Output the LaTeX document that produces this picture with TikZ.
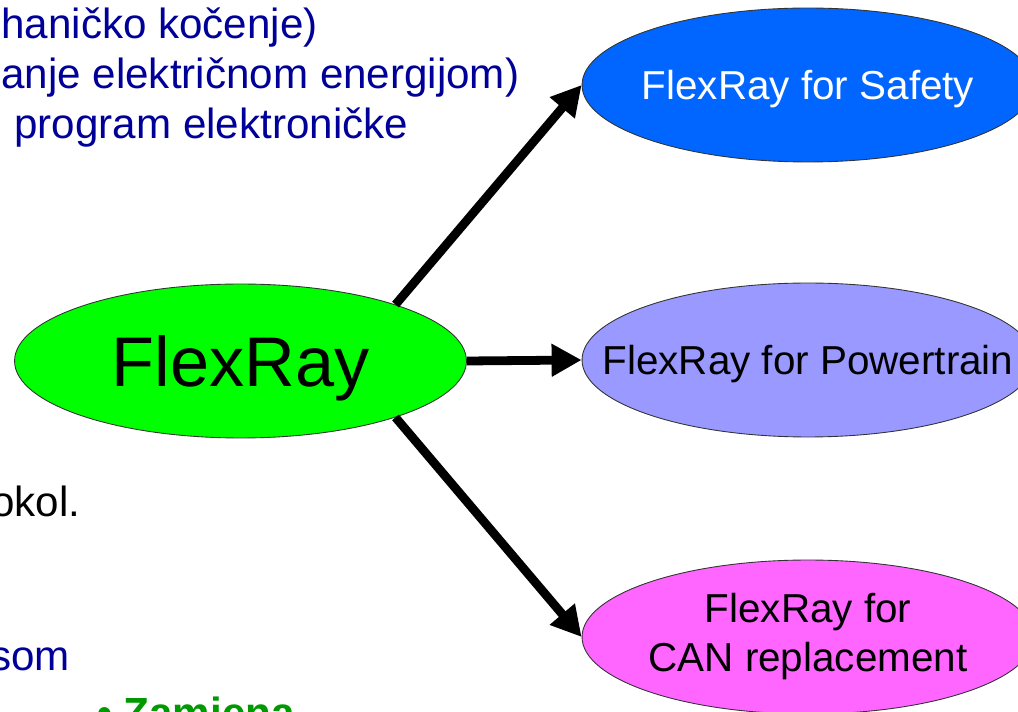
\documentclass[tikz,border=0pt]{standalone}
\usepackage{fontspec}
\setmainfont{Liberation Sans}
\usetikzlibrary{arrows.meta, shapes.geometric}
\definecolor{slideblue}{RGB}{0,0,153}
\definecolor{slidegreen}{RGB}{0,153,0}
\definecolor{safetyblue}{RGB}{0,102,255}
\definecolor{powerlilac}{RGB}{153,153,255}
\definecolor{canpink}{RGB}{255,102,255}

\begin{document}
\begin{tikzpicture}[x=0.02cm, y=-0.02cm, >={Triangle[length=0.6cm, width=0.62cm]},
  every node/.style={font=\fontsize{23}{28}\selectfont, inner sep=0pt},
  bubble/.style={draw=black!80, line width=0.5pt, ellipse, minimum width=9.04cm, minimum height=3.08cm, align=center},
  slidetext/.style={anchor=base west, text=slideblue, font=\fontsize{24}{29}\selectfont}]
  \useasboundingbox (0,0) rectangle (1018,712);
  \clip (0,0) rectangle (1018,712);
  % slide text behind the diagram
  \node[slidetext] (braking) at (1,39) {haničko kočenje)};
  \node[slidetext] (supply) at (1,89) {anje električnom energijom)};
  \node[slidetext] (program) at (14,139) {program elektroničke};
  \node[slidetext, text=black] (protocol) at (-9,517) {okol.};
  \node[slidetext] (som) at (-10,670) {som};
  \node[slidetext, text=slidegreen, font=\fontsize{24}{29}\selectfont\bfseries] (swap) at (97,727) {• Zamjena};
  % diagram
  \node[bubble, fill=green, text depth=0pt, font=\fontsize{40}{48}\selectfont] (flexray) at (240.5,361) {FlexRay};
  \node[bubble, fill=safetyblue, text=white, text depth=0pt] (safety) at (808,85) {\makebox[0pt]{FlexRay for Safety}};
  \node[bubble, fill=powerlilac, text depth=0pt] (powertrain) at (808,360) {\makebox[0pt]{FlexRay for Powertrain}};
  \node[bubble, fill=canpink] (canrepl) at (808,637) {\makebox[0pt]{\raisebox{-2.5pt}{\begin{tabular}{@{}c@{}}FlexRay for\\CAN replacement\end{tabular}}}};
  \draw[->, line width=5pt] (flexray.20) -- (safety.west);
  \draw[->, line width=5pt] (flexray.east) -- (powertrain.west);
  \draw[->, line width=5pt] (flexray.-20) -- (canrepl.west);
\end{tikzpicture}
\end{document}
